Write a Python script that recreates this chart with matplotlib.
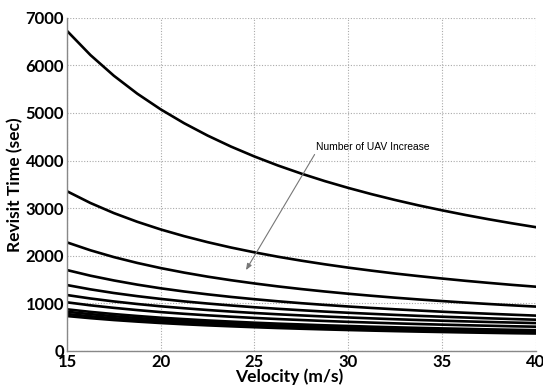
import matplotlib
matplotlib.use("Agg")
import matplotlib.pyplot as plt

velocity = [15, 16.25, 17.5, 18.75, 20, 21.25, 22.5, 23.75, 25, 26.25, 27.5,
            28.75, 30, 31.25, 32.5, 33.75, 35, 36.25, 37.5, 38.75, 40]

curve1 = [6725, 6217, 5782, 5405, 5075, 4784, 4525, 4293, 4085, 3896, 3725,
          3568, 3425, 3293, 3171, 3058, 2954, 2856, 2765, 2680, 2600]
curve2 = [3354, 3107, 2895, 2712, 2551, 2410, 2284, 2171, 2070, 1978, 1895,
          1819, 1749, 1685, 1625, 1571, 1520, 1472, 1428, 1386, 1348]
curve3 = [2279, 2113, 1970, 1847, 1739, 1644, 1559, 1484, 1416, 1354, 1298,
          1247, 1200, 1157, 1117, 1080, 1046, 1014, 984, 956, 930]
curve4 = [1697, 1579, 1479, 1391, 1314, 1247, 1187, 1133, 1085, 1041, 1001,
          965, 932, 901, 873, 847, 822, 800, 779, 759, 740]
curve5 = [1382, 1292, 1215, 1149, 1091, 1039, 994, 953, 916, 883, 853,
          825, 800, 777, 755, 735, 717, 700, 683, 668, 654]
curve6 = [1172, 1100, 1038, 984, 936, 895, 858, 825, 795, 768, 744,
          721, 701, 682, 664, 648, 633, 619, 606, 594, 583]
curve7 = [1019, 956, 903, 856, 814, 778, 746, 717, 691, 668, 647,
          627, 609, 593, 577, 563, 550, 538, 527, 516, 507]
curve8 = [872, 818, 772, 732, 696, 666, 638, 614, 591, 571, 554,
          536, 522, 507, 494, 482, 471, 461, 451, 442, 434]
curve9 = [821, 771, 727, 689, 656, 627, 601, 578, 557, 538, 521,
          505, 491, 478, 465, 454, 443, 434, 425, 416, 408]
curve10 = [773, 726, 685, 649, 617, 590, 566, 544, 524, 507, 491,
           476, 462, 450, 438, 427, 417, 408, 400, 392, 384]
curve11 = [731, 686, 647, 614, 584, 558, 535, 515, 496, 479, 464,
           450, 437, 425, 414, 404, 395, 386, 378, 370, 364]

curves = [curve1, curve2, curve3, curve4, curve5, curve6, curve7,
          curve8, curve9, curve10, curve11]

x_ticks = [15, 20, 25, 30, 35, 40]
y_ticks = [0, 1000, 2000, 3000, 4000, 5000, 6000, 7000]

fig = plt.figure(figsize=(5.43, 3.85), dpi=100)
ax = fig.add_axes([0.1234, 0.0888, 0.8628, 0.865])

for c in curves:
    ax.plot(velocity, c, color="black", lw=1.9, solid_joinstyle="round")

ax.set_xlim(15, 40)
ax.set_ylim(0, 7000)
ax.set_xticks(x_ticks)
ax.set_yticks(y_ticks)
ax.set_xticklabels([str(t) for t in x_ticks], fontfamily="Lato", fontweight="bold", fontsize=12)
ax.set_yticklabels([str(t) for t in y_ticks], fontfamily="Lato", fontweight="bold", fontsize=12)
ax.tick_params(length=0, pad=2)

ax.grid(True, color="#aaaaaa", linestyle=(0, (1, 1.5)), lw=0.8)
for s in ["top", "right"]:
    ax.spines[s].set_visible(False)
for s in ["left", "bottom"]:
    ax.spines[s].set_color("#888888")
    ax.spines[s].set_linewidth(1.0)

ax.set_xlabel("Velocity (m/s)", fontfamily="Lato", fontweight="bold", fontsize=12.5)
ax.xaxis.set_label_coords(0.475, -0.054)
ax.set_ylabel("Revisit Time (sec)", fontfamily="Lato", fontweight="bold", fontsize=12.5, labelpad=2)

ax.annotate("Number of UAV Increase", xy=(24.55, 1697), xytext=(28.3, 4290),
            fontsize=7.4, fontfamily="Liberation Sans", va="center", ha="left",
            arrowprops=dict(arrowstyle="-|>,head_length=0.5,head_width=0.2",
                            color="#777777", lw=0.8, shrinkA=0, shrinkB=0,
                            relpos=(0.0, 0.0)))

fig.savefig("out.png", dpi=100)
